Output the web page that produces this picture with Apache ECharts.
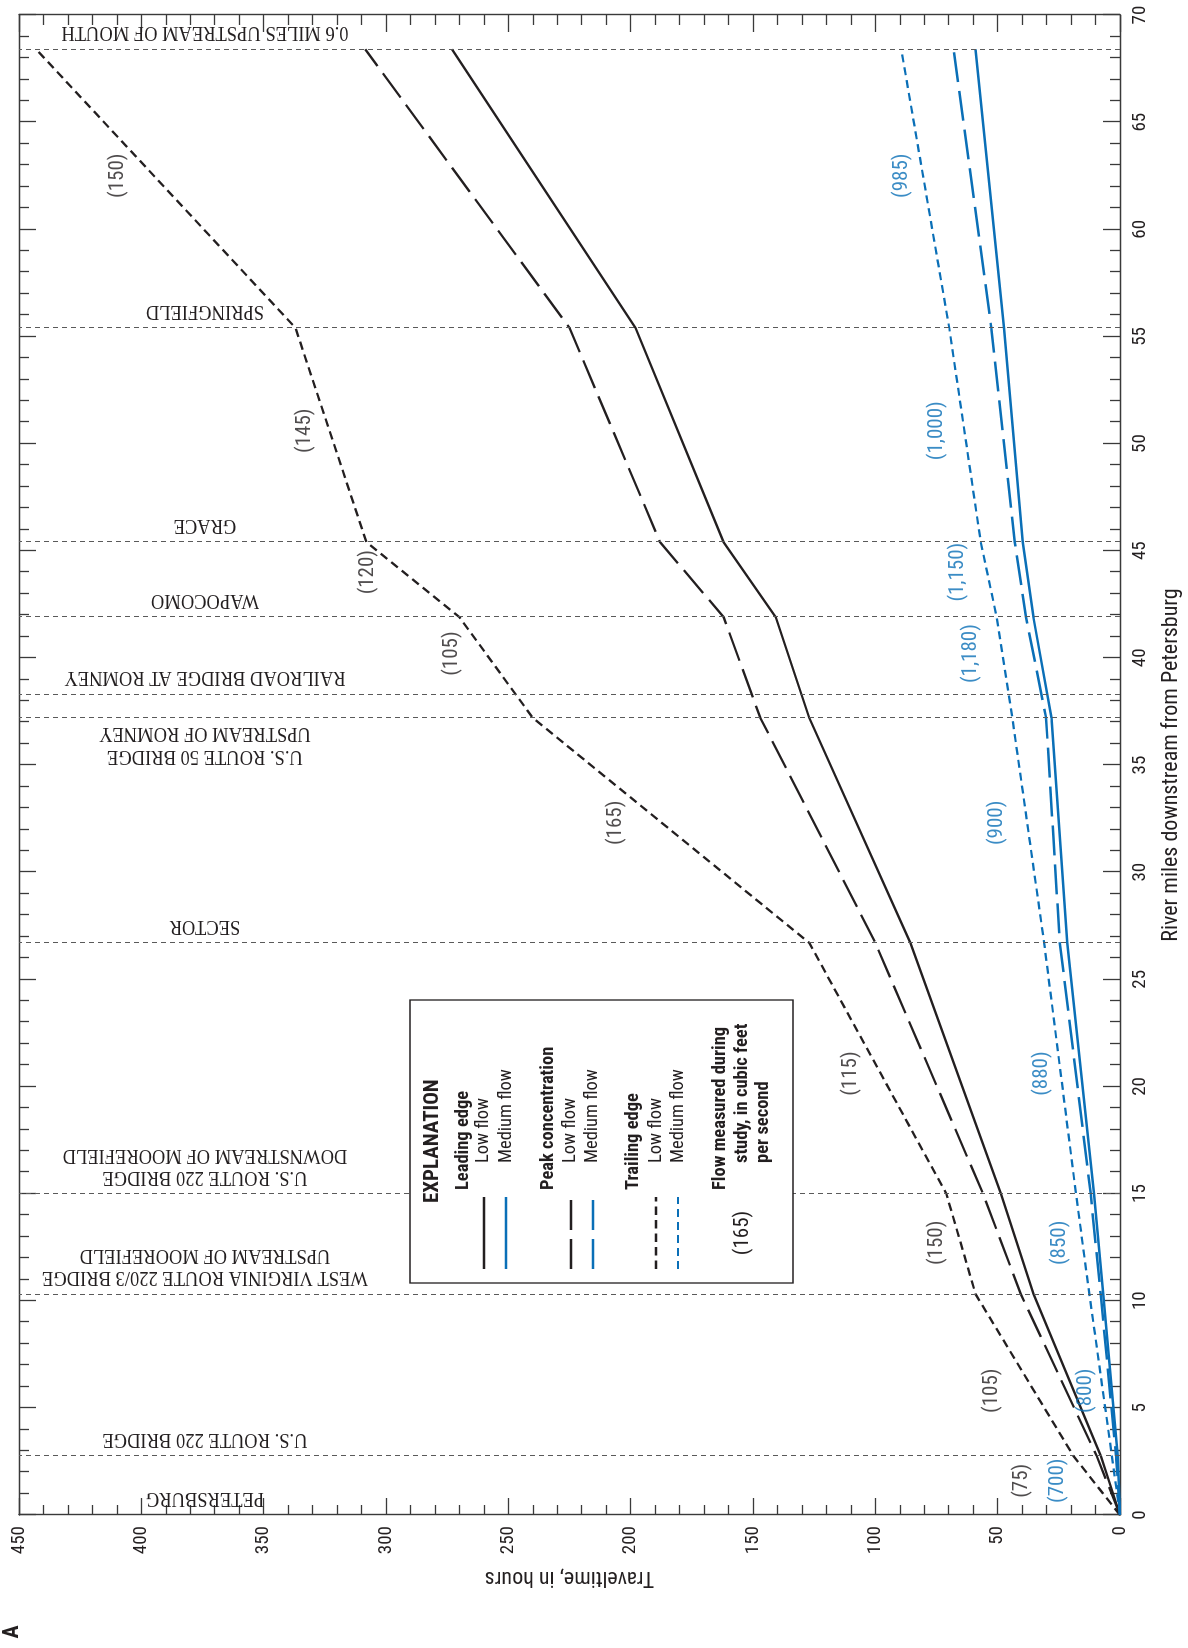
<!DOCTYPE html>
<html>
<head>
<meta charset="utf-8">
<script src="https://cdn.jsdelivr.net/npm/echarts@6/dist/echarts.min.js"></script>
<style>
  html, body { margin: 0; padding: 0; background: #fff; width: 1188px; height: 1648px; overflow: hidden; }
  /* The figure is laid out in landscape and turned a quarter turn counter-clockwise onto the portrait page. */
  #chart { position: absolute; left: 0; top: 0; width: 1648px; height: 1188px;
           transform-origin: 0 0; transform: translate(0, 1648px) rotate(-90deg); }
</style>
</head>
<body>
<div id="chart"></div>
<script>
// Sampling sites along the river (river miles downstream from Petersburg)
const siteMiles = [0, 2.75, 10.3, 15.0, 26.7, 37.2, 38.3, 41.9, 45.4, 55.4, 68.4];
const siteNames = [
  'PETERSBURG',
  'U.S. ROUTE 220 BRIDGE',
  'WEST VIRGINIA ROUTE 220/3 BRIDGE\nUPSTREAM OF MOOREFIELD',
  'U.S. ROUTE 220 BRIDGE\nDOWNSTREAM OF MOOREFIELD',
  'SECTOR',
  'U.S. ROUTE 50 BRIDGE\nUPSTREAM OF ROMNEY',
  'RAILROAD BRIDGE AT ROMNEY',
  'WAPOCOMO',
  'GRACE',
  'SPRINGFIELD',
  '0.6 MILES UPSTREAM OF MOUTH'
];

// Dye-cloud traveltimes (hours) at the sites where the cloud was sampled
const sampleMiles   = [0, 2.75, 10.3, 15.0, 26.7, 37.2, 41.9, 45.4, 55.4, 68.4];
const leadingLow    = [0, 7.8, 35.3, 48.7, 85.7, 127, 140.7, 162, 198, 273];
const peakLow       = [0, 9.5, 40.5, 56, 100, 147, 162, 188, 225, 308.5];
const trailingLow   = [0, 19, 59, 71, 127, 240, 270, 308, 337, 443];
const leadingMed    = [0, 0.9, 6.8, 10.6, 21.6, 28, 35.4, 39.7, 47.4, 59.1];
const peakMed       = [0, 1.6, 7.9, 12, 24.6, 30.2, 38.4, 43, 52.6, 68];
const trailingMed   = [0, 3.3, 12.5, 18, 31, 44, 50.4, 56.9, 69.8, 89.4];

// Streamflow measured during each study, written between sites
const flowLabelMiles       = [1.6, 5.8, 12.7, 20.6, 32.3, 40.2, 44.0, 50.6, 62.5];
const flowTextLow          = ['(75)', '(105)', '(150)', '(115)', '(165)', '(105)', '(120)', '(145)', '(150)'];
const flowLabelHoursLow    = [40, 52.6, 75, 110, 206, 273, 307.6, 333.4, 409.6];
const flowTextMed          = ['(700)', '(800)', '(850)', '(880)', '(900)', '(1,180)', '(1,150)', '(1,000)', '(985)'];
const flowLabelHoursMed    = [25.5, 13.9, 24.6, 31.9, 50.4, 61.2, 66.3, 75, 89.1];

// ---- styling ----
const INK = '#231f20';
const BLUE = '#0a6fb7';
const AXIS = '#3a3a3a';
const COND = '"Liberation Sans Narrow", "Arial Narrow", "Roboto Condensed", "Liberation Sans", Arial, sans-serif';
const SERIF = '"Liberation Serif", "Times New Roman", serif';
const LONG_DASH = [30, 9];
const SHORT_DASH = [8.5, 5];
const SHORT_DASH_BLUE = [8, 5];
const SITE_LABEL_HOURS = 374;          // where the site names sit along each site line
const siteLabelSide = [1, 1, 1, 1, 1, -1, 1, 1, 1, 1, 1];

const chart = echarts.init(document.getElementById('chart'), null, { renderer: 'canvas' });

function pairs(miles, hours) { return miles.map((m, i) => [m, hours[i]]); }

function curve(name, hours, color, type, width) {
  return {
    name, type: 'line', data: pairs(sampleMiles, hours),
    showSymbol: false, symbol: 'none', silent: true, z: 4,
    lineStyle: { color, width, type, cap: 'butt', join: 'miter' }
  };
}

function flowLabels(name, texts, hours, color) {
  return {
    name, type: 'scatter', silent: true, z: 5,
    symbol: 'circle', symbolSize: 2, itemStyle: { color: 'rgba(0,0,0,0)' },
    data: flowLabelMiles.map((m, i) => ({ value: [m, hours[i]], name: texts[i] })),
    label: { show: true, position: 'inside', formatter: '{b}', color,
             fontFamily: COND, fontSize: 21 },
    labelLayout: { hideOverlap: false }
  };
}

const tickStyle = { color: AXIS, width: 1.3 };
function milesAxis(pos, labels) {
  return {
    type: 'value', position: pos, min: 0, max: 70, interval: 5,
    axisLine: { show: true, onZero: false, lineStyle: { color: AXIS, width: 1.4 } },
    axisTick: { show: true, inside: true, length: 17, lineStyle: tickStyle },
    minorTick: { show: true, splitNumber: 5, length: 10, lineStyle: tickStyle },
    splitLine: { show: false }, minorSplitLine: { show: false },
    axisLabel: { show: labels, margin: 11, fontFamily: COND, fontSize: 19, color: INK,
                 showMinLabel: true, showMaxLabel: true },
    name: labels ? 'River miles downstream from Petersburg' : '',
    nameLocation: 'middle', nameGap: 40,
    nameTextStyle: { fontFamily: COND, fontSize: 22, color: INK }
  };
}
function hoursAxis(pos, labels) {
  return {
    type: 'value', position: pos, min: 0, max: 450, interval: 50,
    axisLine: { show: true, onZero: false, lineStyle: { color: AXIS, width: 1.4 } },
    axisTick: { show: true, inside: true, length: 17, lineStyle: tickStyle },
    minorTick: { show: true, splitNumber: 5, length: 10, lineStyle: tickStyle },
    splitLine: { show: false }, minorSplitLine: { show: false },
    axisLabel: { show: labels, margin: 11, fontFamily: COND, fontSize: 19, color: INK,
                 showMinLabel: true, showMaxLabel: true },
    name: labels ? 'Traveltime, in hours' : '',
    nameLocation: 'middle', nameGap: 52, nameRotate: 90,
    nameTextStyle: { fontFamily: COND, fontSize: 22, color: INK }
  };
}

// Site names run along their site lines
const siteLabelSeries = {
  type: 'custom', silent: true, z: 3, clip: false,
  data: siteMiles.map((m, i) => [m, i]),
  renderItem(params, api) {
    const i = params.dataIndex;
    const p = api.coord([api.value(0), SITE_LABEL_HOURS]);
    const side = siteLabelSide[i];
    return {
      type: 'text', x: p[0] + side * 5, y: p[1],
      rotation: Math.PI / 2, scaleY: 1.17,
      style: {
        text: siteNames[i], fill: INK, font: `18.5px ${SERIF}`, lineHeight: 19,
        align: 'center', verticalAlign: side > 0 ? 'top' : 'bottom'
      }
    };
  }
};

const siteLines = {
  type: 'line', data: [], silent: true, z: 2,
  markLine: {
    silent: true, symbol: 'none', animation: false,
    label: { show: false },
    lineStyle: { color: '#5a5a5a', width: 1, type: [5, 4] },
    data: siteMiles.slice(1).map(m => ({ xAxis: m }))
  }
};

// Explanation box
const LX = 365, LY = 410;
function lt(x, y, text, bold, size, color) {
  return { type: 'text', x: LX + x, y: LY + y, z: 52,
    style: { text, fill: color || INK, font: `${bold ? 'bold ' : ''}${size}px ${COND}`,
             verticalAlign: 'middle', align: 'left' } };
}
function ll(y, color, dash, width) {
  return { type: 'line', z: 52,
    shape: { x1: LX + 14, y1: LY + y, x2: LX + 86, y2: LY + y },
    style: { stroke: color, lineWidth: width || 2.6, lineDash: dash || null } };
}
const legendGraphic = [
  { type: 'rect', z: 50, shape: { x: LX, y: LY, width: 283, height: 383 },
    style: { fill: '#fff', stroke: INK, lineWidth: 1.3 } },
  lt(80, 23, 'EXPLANATION', true, 21),
  lt(93, 53, 'Leading edge', true, 18.5),
  lt(120, 73, 'Low flow', false, 18.5),
  lt(120, 96, 'Medium flow', false, 18.5),
  ll(74, INK), ll(96, BLUE),
  lt(93, 138, 'Peak concentration', true, 18.5),
  lt(120, 160, 'Low flow', false, 18.5),
  lt(120, 182, 'Medium flow', false, 18.5),
  ll(161, INK, LONG_DASH), ll(183, BLUE, LONG_DASH),
  lt(93, 223, 'Trailing edge', true, 18.5),
  lt(120, 246, 'Low flow', false, 18.5),
  lt(120, 268, 'Medium flow', false, 18.5),
  ll(246, INK, SHORT_DASH), ll(268, BLUE, SHORT_DASH_BLUE, 2.2),
  lt(93, 310, 'Flow measured during', true, 18.5),
  lt(120, 332, 'study, in cubic feet', true, 18.5),
  lt(120, 353, 'per second', true, 18.5),
  { type: 'text', x: LX + 50, y: LY + 333, z: 52,
    style: { text: '(165)', fill: INK, font: `21px ${COND}`, align: 'center', verticalAlign: 'middle' } },
  { type: 'text', x: 16, y: 12, z: 52,
    style: { text: 'A', fill: INK, font: `bold 22px ${COND}`, align: 'center', verticalAlign: 'middle' } }
];

chart.setOption({
  animation: false,
  backgroundColor: '#fff',
  grid: { left: 133, right: 15, top: 19, bottom: 68, containLabel: false, outerBoundsMode: 'none' },
  xAxis: [milesAxis('bottom', true), milesAxis('top', false)],
  yAxis: [hoursAxis('left', true), hoursAxis('right', false)],
  series: [
    siteLines,
    siteLabelSeries,
    curve('Leading edge, low flow', leadingLow, INK, 'solid', 2.3),
    curve('Peak concentration, low flow', peakLow, INK, LONG_DASH, 2.3),
    curve('Trailing edge, low flow', trailingLow, INK, SHORT_DASH, 2.3),
    curve('Leading edge, medium flow', leadingMed, BLUE, 'solid', 2.5),
    curve('Peak concentration, medium flow', peakMed, BLUE, LONG_DASH, 2.5),
    curve('Trailing edge, medium flow', trailingMed, BLUE, SHORT_DASH_BLUE, 2.2),
    flowLabels('Flow, low', flowTextLow, flowLabelHoursLow, INK),
    flowLabels('Flow, medium', flowTextMed, flowLabelHoursMed, BLUE)
  ],
  graphic: legendGraphic
});
</script>
</body>
</html>
